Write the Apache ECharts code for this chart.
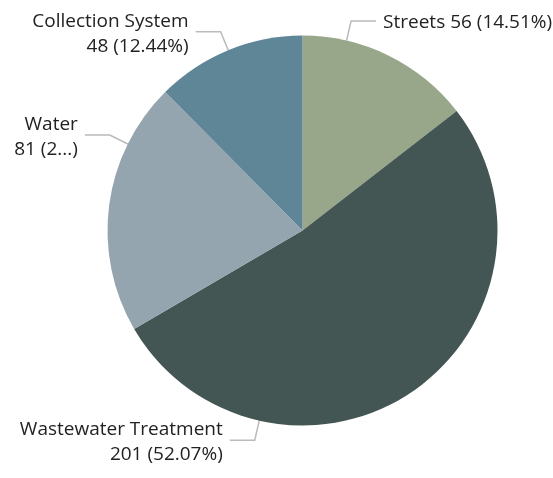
<!DOCTYPE html>
<html><head><meta charset="utf-8">
<script src="https://cdn.jsdelivr.net/npm/echarts@6/dist/echarts.min.js"></script>
<style>html,body{margin:0;padding:0;background:#fff}#c{width:553px;height:478px}</style>
</head><body><div id="c"></div>
<script>
// ---- data ----
const categories = ['Streets', 'Wastewater Treatment', 'Water', 'Collection System'];
const values = [56, 201, 81, 48];

// ---- styling / layout ----
const colors = ['#98A68A', '#435654', '#95A5B0', '#5F8696'];
const singleLine = [true, false, false, false];
const labelAnchor = [0.25, 0.75, 0.75, 0.5];   // where along each slice the leader line starts
const pctMaxWidth = [null, null, 28, null];     // percent text is clipped with "..." when set
const CX = 302.5, CY = 230.5, R = 195;
const LEN1 = 20, LEN2 = 25, GAP = 7;
const FONT_FAMILY = 'Open Sans', FONT_SIZE = 19;

const ctx = document.createElement('canvas').getContext('2d');
ctx.font = FONT_SIZE + 'px "' + FONT_FAMILY + '"';
function clip(text, maxW) {
  if (maxW == null || ctx.measureText(text).width <= maxW) return text;
  const ell = '...';
  let s = text;
  while (s.length && ctx.measureText(s + ell).width > maxW) s = s.slice(0, -1);
  return s + ell;
}

const total = values.reduce((a, b) => a + b, 0);
const anchorAngles = [];
let acc = 0;
values.forEach((v, i) => {
  const startDeg = 90 - acc / total * 360;
  const spanDeg = v / total * 360;
  anchorAngles.push(startDeg - spanDeg * labelAnchor[i]);
  acc += v;
});

const chart = echarts.init(document.getElementById('c'));
chart.setOption({
  animation: false,
  series: [{
    type: 'pie',
    center: [CX, CY],
    radius: R,
    startAngle: 90,
    clockwise: true,
    avoidLabelOverlap: false,
    data: categories.map((n, i) => ({ name: n, value: values[i], itemStyle: { color: colors[i] } })),
    label: {
      color: '#222',
      fontFamily: FONT_FAMILY,
      fontSize: FONT_SIZE,
      lineHeight: 25,
      width: 300,
      overflow: 'none',
      formatter: p => {
        const pct = clip(p.percent.toFixed(2) + '%', pctMaxWidth[p.dataIndex]);
        const vt = `${p.value} (${pct})`;
        return singleLine[p.dataIndex] ? `${p.name} ${vt}` : `${p.name}\n${vt}`;
      }
    },
    labelLine: { show: true, length: LEN1, length2: LEN2, lineStyle: { color: '#bbb', width: 1.5 } },
    labelLayout: params => {
      const i = params.dataIndex;
      const a = anchorAngles[i] * Math.PI / 180;
      const cos = Math.cos(a), sin = Math.sin(a);
      const p0 = [CX + R * cos, CY - R * sin];
      const p1 = [CX + (R + LEN1) * cos, CY - (R + LEN1) * sin];
      const right = cos >= 0;
      const p2 = [p1[0] + (right ? LEN2 : -LEN2), p1[1]];
      return {
        x: p2[0] + (right ? GAP : -GAP),
        y: p2[1] + 2,
        align: right ? 'left' : 'right',
        verticalAlign: 'middle',
        labelLinePoints: [p0, p1, p2]
      };
    }
  }]
});
</script></body></html>
